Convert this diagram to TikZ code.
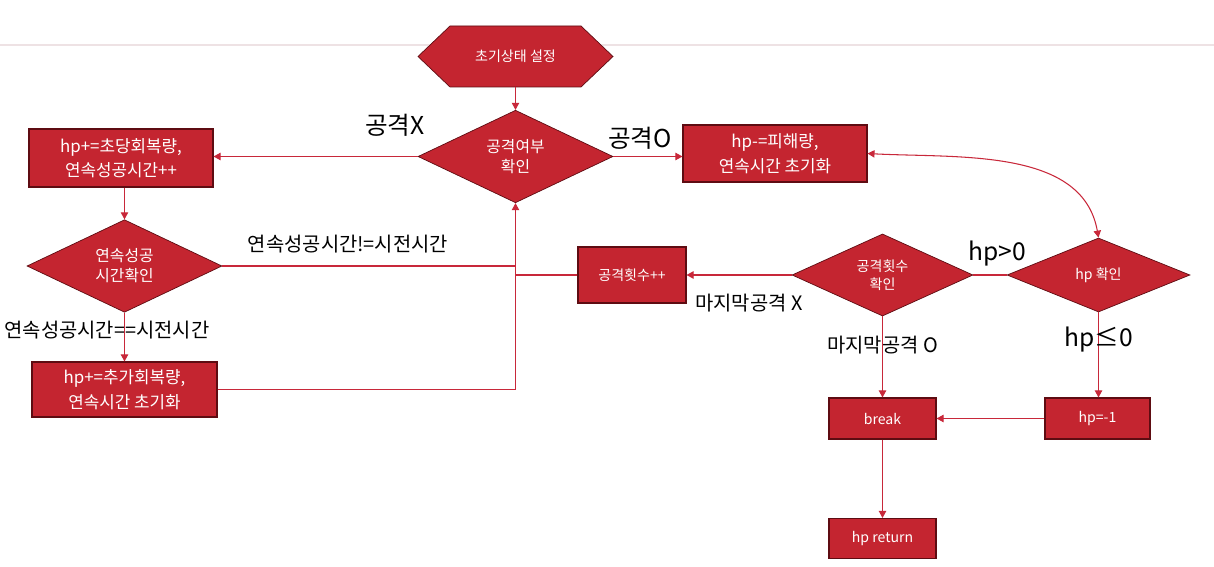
\documentclass[tikz,border=0pt]{standalone}
\usepackage{fontspec}
\setmainfont{Noto Sans CJK KR}
\usetikzlibrary{shapes.geometric,arrows.meta}
\definecolor{boxc}{HTML}{C42530}
\definecolor{bordc}{HTML}{5E0C12}
\definecolor{linec}{HTML}{C8283A}
\definecolor{bgline}{HTML}{EEE2E4}
\tikzset{
  box/.style={draw=bordc, fill=boxc, line width=0.6pt, text=white, inner sep=0pt, align=center},
  dia/.style={diamond, draw=bordc, fill=boxc, line width=0.4pt, text=white, inner sep=0pt, align=center},
  conn/.style={draw=linec, line width=0.6pt},
  arr/.style={conn, -{Triangle[length=4pt,width=4.2pt]}},
  lbl/.style={text=black, inner sep=0pt, align=center},
  fbig/.style={font=\fontsize{14}{16}\selectfont},
  fmid/.style={font=\fontsize{11.3}{13}\selectfont},
  fbox/.style={font=\fontsize{9.6}{14}\selectfont},
  fsmall/.style={font=\fontsize{8}{10}\selectfont},
  fdia/.style={font=\fontsize{9}{11.4}\selectfont},
}
\begin{document}
\begin{tikzpicture}[x=0.02cm,y=-0.02cm]
\useasboundingbox (0,0) rectangle (1214,567);
\draw[bgline, line width=0.8pt] (0,45) -- (1214,45);

% start hexagon
\filldraw[fill=boxc, draw=bordc, line width=0.4pt] (418,56.5) -- (450,26) -- (581,26) -- (613,56.5) -- (581,87) -- (450,87) -- cycle;
\node[lbl, text=white, fsmall, minimum width=3.9cm, minimum height=1.22cm] (hex) at (515.5,56.5) {초기상태 설정};

% nodes
\node[dia, fdia, minimum width=3.9cm, minimum height=1.64cm] (d1) at (515.5,156.5) {공격여부\\확인};
\node[box, fbox, minimum width=3.68cm, minimum height=1.16cm] (b1) at (121,158) {hp+=초당회복량,\\연속성공시간++};
\node[box, fbox, minimum width=3.68cm, minimum height=1.14cm] (b2) at (775,153.5) {hp-=피해량,\\연속시간 초기화};
\node[dia, fdia, minimum width=3.9cm, minimum height=1.64cm] (d2) at (124.5,266) {연속성공\\시간확인};
\node[box, fbox, minimum width=3.7cm, minimum height=1.1cm] (b3) at (124.5,389.5) {hp+=추가회복량,\\연속시간 초기화};
\node[box, fsmall, minimum width=2.16cm, minimum height=1.12cm] (b4) at (632,275) {공격횟수++};
\node[dia, font=\fontsize{8}{10}\selectfont, minimum width=3.62cm, minimum height=1.52cm] (d3) at (882.5,275) {공격횟수\\확인};
\node[dia, fsmall, minimum width=3.66cm, minimum height=1.48cm] (hpd) at (1098.5,275) {hp 확인};
\node[box, fsmall, minimum width=2.14cm, minimum height=0.82cm] (brk) at (882.5,418.5) {break};
\node[box, fsmall, minimum width=2.1cm, minimum height=0.82cm] (hpm) at (1097.5,418.5) {hp=-1};
\node[box, fsmall, minimum width=2.14cm, minimum height=0.8cm] (ret) at (882.5,538.5) {hp return};

% labels
\node[lbl, fbig] (l1) at (395,125) {공격X};
\node[lbl, fbig] (l2) at (640,138) {공격O};
\node[lbl, fmid] (l3) at (348,244) {연속성공시간!=시전시간};
\node[lbl, fmid] (l4) at (107,330) {연속성공시간==시전시간};
\node[lbl, fmid] (l5) at (749,303) {마지막공격 X};
\node[lbl, fmid] (l6) at (882.5,345) {마지막공격 O};
\node[lbl, fbig] (l7) at (997,254) {hp>0};

% connectors
\draw[arr] (hex.south) -- (d1.north);
\draw[arr] (d1.west) -- (d1.west -| b1.east);
\draw[arr] (d1.east) -- (d1.east -| b2.west);
\draw[arr] (b1.south -| d2.north) -- (d2.north);
\draw[arr] (d2.south) -- (b3.north);
\draw[arr] (b3.east) -| (d1.south);
\draw[conn] (d2.east) -- (d2.east -| d1.south);
\draw[conn] (b4.west) -- (b4.west -| d1.south);
\draw[arr] (d3.west) -- (b4.east);
\draw[conn] (hpd.west) -- (d3.east);
\draw[conn, {Triangle[length=4pt,width=4.2pt]}-{Triangle[length=4pt,width=4.2pt]}] (b2.east) to[out=-3,in=100,looseness=0.95] (hpd.north);
\draw[arr] (hpd.south) -- (hpd.south |- hpm.north);
\draw[arr] (d3.south) -- (brk.north);
\draw[arr] (hpm.west) -- (brk.east);
\draw[arr] (brk.south) -- (ret.north);
\node[lbl, fbig] (l8) at (1099,340) {hp≤0};
\end{tikzpicture}
\end{document}
